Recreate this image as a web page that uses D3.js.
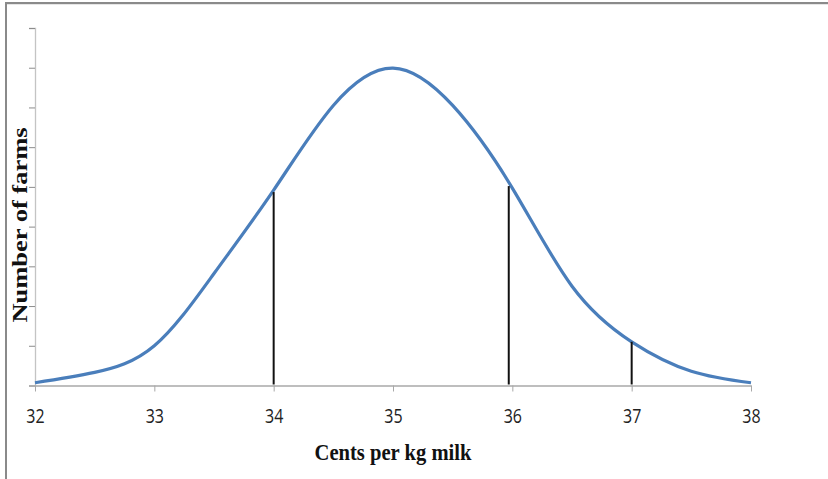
<!DOCTYPE html>
<html>
<head>
<meta charset="utf-8">
<script src="https://cdn.jsdelivr.net/npm/d3@7"></script>
<style>
  html, body { margin: 0; padding: 0; background: #fff; }
  svg { display: block; }
</style>
</head>
<body>
<div id="chart"></div>
<script>
// price (cents per kg milk) and the read-off curve height
const priceCents = [32, 32.5, 33, 33.5, 34, 34.5, 35, 35.5, 36, 36.5, 37, 37.5, 38];
const farmCounts = [0.07, 0.33, 1.0, 2.82, 4.92, 7.05, 7.99, 7.05, 4.97, 2.5, 1.1, 0.36, 0.07];

// the three vertical marker lines
const markerPrice = [34, 35.97, 37];
const markerHeight = [4.87, 5.02, 1.1];

const xTickValues = [32, 33, 34, 35, 36, 37, 38];
const yTickValues = [0, 1, 2, 3, 4, 5, 6, 7, 8, 9];

const xTitle = 'Cents per kg milk';
const yTitle = 'Number of farms';

const width = 828, height = 479;

const svg = d3.select('#chart')
  .append('svg')
  .attr('width', width)
  .attr('height', height);

// outer frame (left + top edges visible)
svg.append('path')
  .attr('d', `M6,${height} V3 H${width}`)
  .attr('fill', 'none')
  .attr('stroke', '#8a8a8a')
  .attr('stroke-width', 2);
svg.append('line')
  .attr('x1', 7).attr('x2', width)
  .attr('y1', 4.5).attr('y2', 4.5)
  .attr('stroke', '#e6e6e6');

const x = d3.scaleLinear().domain([32, 38]).range([35, 751]);
const y = d3.scaleLinear().domain([0, 9]).range([385.5, 28]);

// y axis, no labels
const yAxis = svg.append('g')
  .attr('transform', `translate(${x(32)},0)`)
  .call(d3.axisLeft(y).tickValues(yTickValues).tickSize(6).tickFormat(''));
yAxis.select('.domain').attr('stroke', '#c4c4c4').attr('stroke-width', 1.3);
yAxis.selectAll('.tick line').attr('stroke', '#8c8c8c');

// x axis
const xAxis = svg.append('g')
  .attr('transform', `translate(0,${y(0)})`)
  .call(d3.axisBottom(x).tickValues(xTickValues).tickSize(6).tickSizeOuter(0).tickFormat(d3.format('d')));
xAxis.select('.domain').attr('stroke', '#a8a8a8').attr('stroke-width', 1.3);
xAxis.selectAll('.tick line').attr('stroke', '#a8a8a8');
xAxis.selectAll('.tick text')
  .attr('y', 0).attr('dy', 0)
  .attr('transform', 'translate(0,37.5) scale(1,1.2)')
  .attr('fill', '#222')
  .style('font-family', '"Open Sans", "Liberation Sans", sans-serif')
  .style('font-size', '16px');

// curve
const line = d3.line()
  .x((d, i) => x(priceCents[i]))
  .y(d => y(d))
  .curve(d3.curveNatural);

svg.append('path')
  .datum(farmCounts)
  .attr('d', line)
  .attr('fill', 'none')
  .attr('stroke', '#4a7ebb')
  .attr('stroke-width', 3.2)
  .attr('stroke-linecap', 'butt');

// marker lines
svg.append('g')
  .selectAll('line')
  .data(markerPrice)
  .enter().append('line')
  .attr('x1', d => x(d)).attr('x2', d => x(d))
  .attr('y1', y(0) - 1)
  .attr('y2', (d, i) => y(markerHeight[i]))
  .attr('stroke', '#111')
  .attr('stroke-width', 2);

// titles
svg.append('text')
  .attr('transform', 'translate(393,460) scale(1,1.2)')
  .attr('text-anchor', 'middle')
  .style('font-family', '"Liberation Serif", "Times New Roman", serif')
  .style('font-weight', 'bold')
  .style('font-size', '20px')
  .attr('textLength', 157)
  .attr('lengthAdjust', 'spacingAndGlyphs')
  .attr('fill', '#111')
  .text(xTitle);

svg.append('text')
  .attr('transform', 'translate(27,225) rotate(-90)')
  .attr('text-anchor', 'middle')
  .style('font-family', '"Liberation Serif", "Times New Roman", serif')
  .style('font-weight', 'bold')
  .style('font-size', '20px')
  .attr('textLength', 195)
  .attr('lengthAdjust', 'spacingAndGlyphs')
  .attr('fill', '#111')
  .text(yTitle);
</script>
</body>
</html>
